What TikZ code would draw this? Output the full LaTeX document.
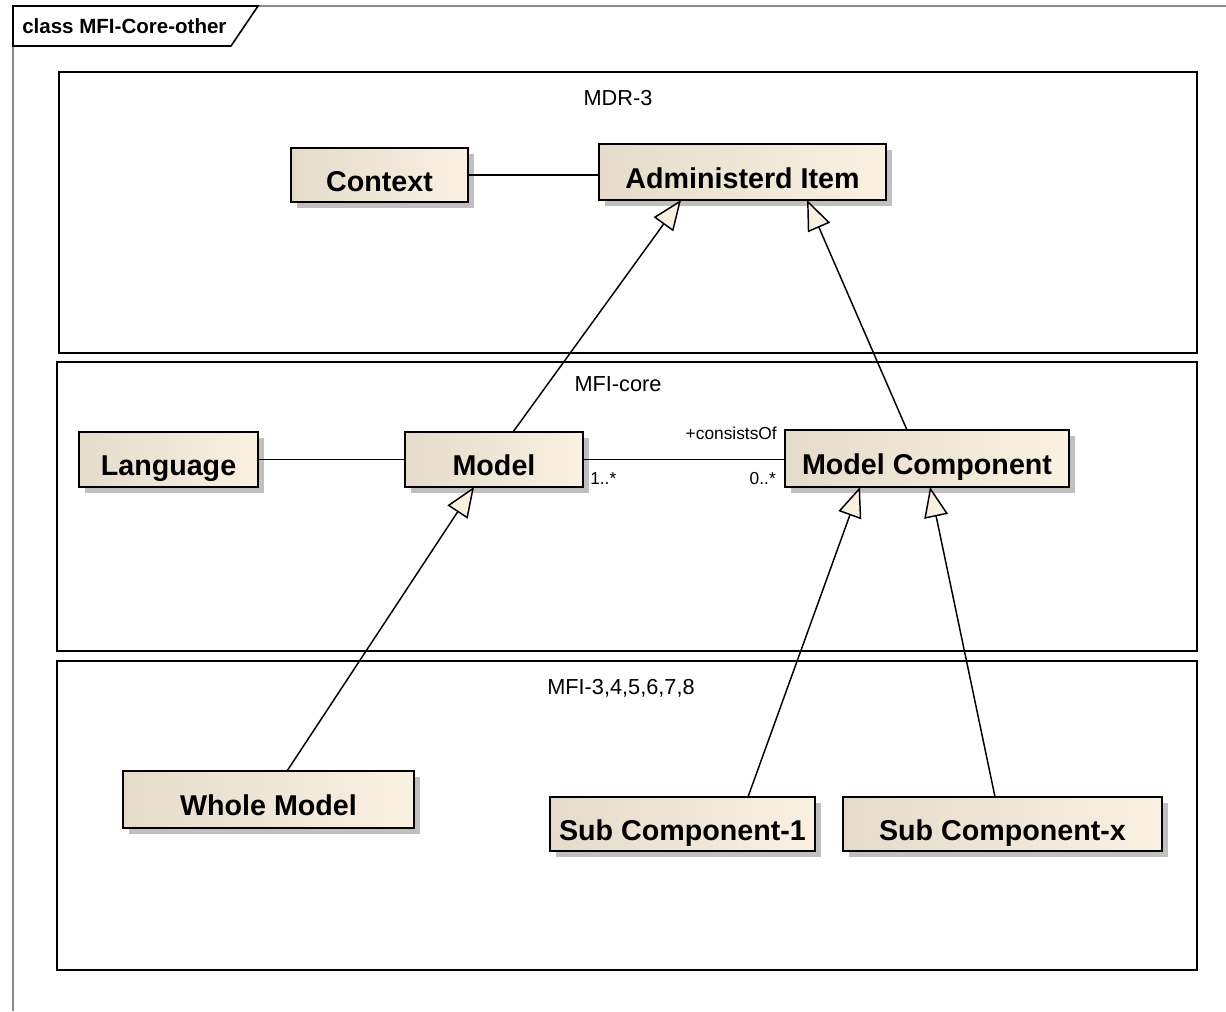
\documentclass[tikz,border=0pt]{standalone}
\usepackage{fontspec}
\setmainfont{Liberation Sans}
\usetikzlibrary{arrows.meta,shadows}

\definecolor{clsL}{RGB}{228,219,203}
\definecolor{clsM}{RGB}{245,235,220}
\definecolor{clsR}{RGB}{251,241,227}
\definecolor{shadowgray}{RGB}{192,192,192}
\definecolor{framegray}{RGB}{140,140,140}
\definecolor{headfill}{RGB}{250,240,226}

\begin{document}
\begin{tikzpicture}[x=0.75pt,y=-0.75pt,
  umlclass/.style={draw=black, line width=1.5pt, rectangle, outer sep=0pt, inner sep=0pt,
    left color=clsL, middle color=clsM, right color=clsR,
    font=\fontsize{21.5}{24}\selectfont\bfseries, text height=24pt, text depth=0pt,
    drop shadow={shadow xshift=4.5pt, shadow yshift=-4.5pt, fill=shadowgray, opacity=1, draw=none}},
  pkgline/.style={draw=black, line width=1.5pt},
  pkglabel/.style={inner sep=0pt, font=\fontsize{16.3}{19}\selectfont},
  mult/.style={inner sep=0pt, font=\fontsize{13}{15}\selectfont},
  assoc/.style={draw=black, line width=1.1pt},
  gen/.style={draw=black, line width=1.1pt, line join=miter,
    -{Triangle[length=22.5pt, width=18pt, fill=headfill]}}
]
\useasboundingbox (0,0) rectangle (1226,1011);

% diagram frame and its name tab
\draw[framegray, line width=2pt] (1226,6) -- (13,6) -- (13,1011);
\draw[line width=1.2pt, fill=white] (13,6) -- (258,6) -- (231,46) -- (13,46) -- cycle;
\node[anchor=base west, inner sep=0pt, font=\fontsize{15.4}{18}\selectfont\bfseries] (title) at (22,33) {class MFI-Core-other};

% packages
\draw[pkgline] (59,72) rectangle (1197,353);
\draw[pkgline] (57,362) rectangle (1197,651);
\draw[pkgline] (57,661) rectangle (1197,970);
\node[pkglabel, anchor=base] (lblmdr) at (618,105) {MDR-3};
\node[pkglabel, anchor=base] (lblcore) at (618,391) {MFI-core};
\node[pkglabel, anchor=base] (lblmfi) at (621,694) {MFI-3,4,5,6,7,8};

% classes
\node[umlclass, minimum width=132.75pt, minimum height=40.5pt] (context) at (379.5,175) {Context};
\node[umlclass, minimum width=215.25pt, minimum height=42pt] (admin) at (742.5,172) {Administerd Item};
\node[umlclass, minimum width=134.25pt, minimum height=41.25pt] (language) at (168.5,459.5) {Language};
\node[umlclass, minimum width=133.5pt, minimum height=41.25pt] (model) at (494,459.5) {Model};
\node[umlclass, minimum width=213pt, minimum height=42.75pt] (mc) at (927,458.5) {Model Component};
\node[umlclass, minimum width=218.25pt, minimum height=42.75pt] (whole) at (268.5,799.5) {Whole Model};
\node[umlclass, minimum width=198.75pt, minimum height=40.5pt] (sub1) at (682.5,824) {Sub Component-1};
\node[umlclass, minimum width=239.25pt, minimum height=40.5pt] (subx) at (1002.5,824) {Sub Component-x};

% associations
\draw[assoc] (context.east) -- (context.east -| admin.west);
\draw[assoc] (language.east) -- (language.east -| model.west);
\draw[assoc] (model.east) -- (model.east -| mc.west);
\node[mult, anchor=base east] (role) at (777,439) {+consistsOf};
\node[mult, anchor=base west] (m1) at (590,484) {1..*};
\node[mult, anchor=base east] (m0) at (776,484) {0..*};

% generalizations
\draw[gen] ([xshift=14.25pt]model.north) -- ([xshift=-46.1pt]admin.south);
\draw[gen] ([xshift=-15pt]mc.north) -- ([xshift=48.4pt]admin.south);
\draw[gen] ([xshift=13.9pt]whole.north) -- ([xshift=-15pt]model.south);
\draw[gen] ([xshift=49.1pt]sub1.north) -- ([xshift=-50.25pt]mc.south);
\draw[gen] ([xshift=-5.6pt]subx.north) -- ([xshift=2.25pt]mc.south);
\end{tikzpicture}
\end{document}
